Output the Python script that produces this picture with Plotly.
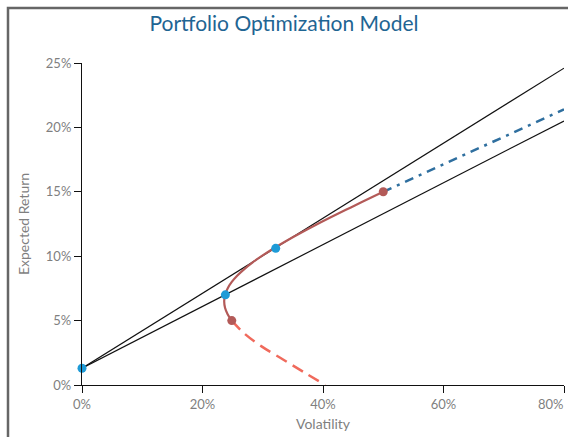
import plotly.graph_objects as go

# ---- data ----
frontier_upper_ret = [0.050, 0.055, 0.060, 0.065, 0.070, 0.075, 0.080, 0.085, 0.090, 0.095,
                      0.100, 0.106, 0.112, 0.118, 0.124, 0.130, 0.136, 0.142, 0.150]
frontier_upper_vol = [0.2486, 0.2417, 0.2374, 0.2360, 0.2374, 0.2417, 0.2486, 0.2579, 0.2694, 0.2828,
                      0.2980, 0.3179, 0.3396, 0.3627, 0.3869, 0.4120, 0.4380, 0.4645, 0.5000]
frontier_lower_ret = [0.050, 0.040, 0.030, 0.020, 0.010, 0.000]
frontier_lower_vol = [0.2486, 0.2694, 0.2980, 0.3330, 0.3680, 0.4040]
extension_vol = [0.50, 0.80]
extension_ret = [0.150, 0.214]
cml1_vol = [0.0, 0.8]
cml1_ret = [0.013, 0.246]
cml2_vol = [0.0, 0.8]
cml2_ret = [0.013, 0.205]
blue_vol = [0.0, 0.238, 0.3215]
blue_ret = [0.013, 0.070, 0.1061]
red_vol = [0.2486, 0.500]
red_ret = [0.050, 0.150]
x_ticks = [0, 0.2, 0.4, 0.6, 0.8]
x_tick_labels = ["0%", "20%", "40%", "60%", "80%"]
y_ticks = [0, 0.05, 0.10, 0.15, 0.20, 0.25]
y_tick_labels = ["0%", "5%", "10%", "15%", "20%", "25%"]

RED = "#b35a58"
SALMON = "#f06a5c"
BLUE = "#1e9bd7"
STEEL = "#2f6f9f"
GRAY = "#7f7f7f"

fig = go.Figure()
fig.add_trace(go.Scatter(x=cml1_vol, y=cml1_ret, mode="lines",
                         line=dict(color="#111111", width=1.2), hoverinfo="skip"))
fig.add_trace(go.Scatter(x=cml2_vol, y=cml2_ret, mode="lines",
                         line=dict(color="#111111", width=1.2), hoverinfo="skip"))
fig.add_trace(go.Scatter(x=extension_vol, y=extension_ret, mode="lines",
                         line=dict(color=STEEL, width=2.5, dash="9px,6px,3px,6px")))
fig.add_trace(go.Scatter(x=frontier_lower_vol, y=frontier_lower_ret, mode="lines",
                         line=dict(color=SALMON, width=2.5, dash="12px,7px", shape="spline")))
fig.add_trace(go.Scatter(x=frontier_upper_vol, y=frontier_upper_ret, mode="lines",
                         line=dict(color=RED, width=2.2, shape="spline")))
fig.add_trace(go.Scatter(x=red_vol, y=red_ret, mode="markers",
                         marker=dict(color=RED, size=9)))
fig.add_trace(go.Scatter(x=blue_vol, y=blue_ret, mode="markers",
                         marker=dict(color=BLUE, size=9), cliponaxis=False))

W, H = 568, 437
L, R, T, B = 82, 4, 63, 52
pw, ph = W - L - R, H - T - B

# last x tick label sits at the right edge: drawn right-aligned to its tick
x_text_axis = x_tick_labels[:-1] + [""]

fig.update_layout(
    width=W, height=H,
    margin=dict(l=L, r=R, t=T, b=B, autoexpand=False),
    paper_bgcolor="white", plot_bgcolor="white",
    showlegend=False,
    font=dict(family="Lato, Open Sans, sans-serif", color=GRAY, size=13),
    title=dict(text="Portfolio Optimization Model", x=0.5, xanchor="center",
               y=1 - 24 / H, yanchor="middle",
               font=dict(size=21, color="#1f6593", family="Lato, Open Sans, sans-serif")),
    xaxis=dict(range=[0, 0.8], tickvals=x_ticks, ticktext=x_text_axis, automargin=False,
               showgrid=False, zeroline=False, showline=True, linecolor="#111111", linewidth=1.2,
               ticks="outside", ticklen=7, tickcolor="#111111", tickwidth=1.2,
               tickfont=dict(size=13, color=GRAY),
               title=dict(text="Volatility", font=dict(size=14, color=GRAY), standoff=8)),
    yaxis=dict(range=[0, 0.25], tickvals=y_ticks, ticktext=y_tick_labels, automargin=False,
               showgrid=False, zeroline=False, showline=True, linecolor="#111111", linewidth=1.2,
               ticks="outside", ticklen=7, tickcolor="#111111", tickwidth=1.2,
               tickfont=dict(size=13, color=GRAY),
               title=dict(text="Expected Return", font=dict(size=14, color=GRAY), standoff=12)),
)

fig.add_annotation(x=x_ticks[-1], y=0, xref="x", yref="paper", text=x_tick_labels[-1],
                   showarrow=False, xanchor="right", yanchor="top", yshift=-9, xshift=2,
                   font=dict(size=13, color=GRAY))

# outer frame: top and left edges at 8px, as in the reference
fig.add_shape(type="rect", xref="paper", yref="paper",
              x0=(8 - L) / pw, x1=(W + 20 - L) / pw,
              y0=-(B + 30) / ph, y1=(T - 8) / ph + 1,
              line=dict(color="#666666", width=2.5), fillcolor="rgba(0,0,0,0)", layer="above")

fig.write_html("out.html",
               config={"displayModeBar": False},
               post_script="document.body.style.margin='0';"
                           "document.body.style.overflow='hidden';")
